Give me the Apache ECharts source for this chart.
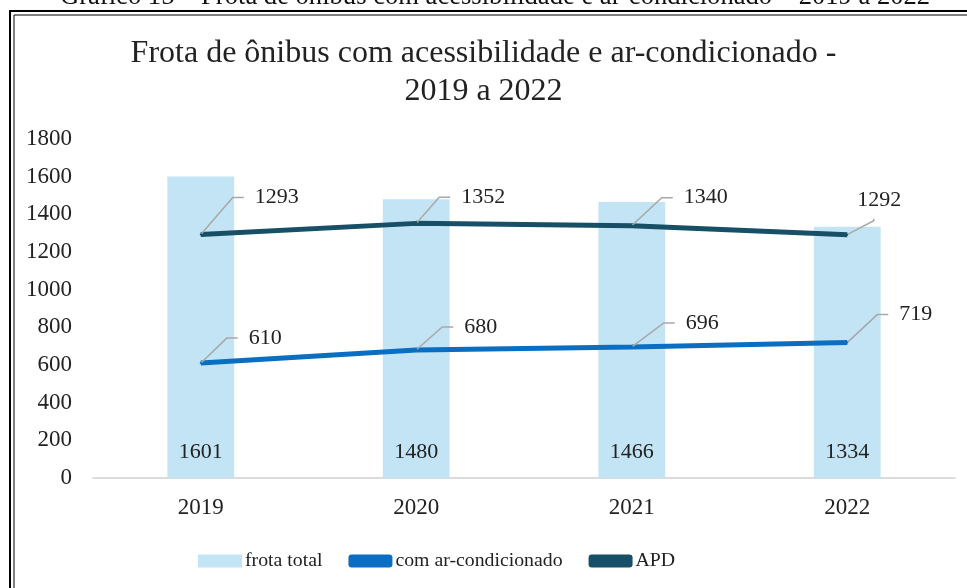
<!DOCTYPE html>
<html><head><meta charset="utf-8">
<script src="https://cdn.jsdelivr.net/npm/echarts@6/dist/echarts.min.js"></script>
<style>html,body{margin:0;padding:0;background:#fff}#c{width:967px;height:588px}</style>
</head><body><div id="c"></div>
<script>
const categories = ['2019', '2020', '2021', '2022'];
const frotaTotal = [1601, 1480, 1466, 1334];
const comAr = [610, 680, 696, 719];
const apd = [1293, 1352, 1340, 1292];
const yTicks = [0, 200, 400, 600, 800, 1000, 1200, 1400, 1600, 1800];

// label placement offsets (style only): [text-left dx, text-middle dy] from the point
const apdLabelOffsets = [[54, -37], [45, -26], [52, -28], [10, -34]];
const arLabelOffsets = [[48, -25], [48, -23], [54, -24], [52, -28]];

const F = '"Liberation Serif","Times New Roman",serif';
const GAP = 11; // width of the two leading spaces at 22px
const chart = echarts.init(document.getElementById('c'));
const lineLabel = {
  show: true, position: 'right', distance: 5, fontFamily: F, fontSize: 22, color: '#222',
  formatter: p => '  ' + p.value
};
function layoutFor(offsets) {
  return function (p) {
    const cx = p.rect.x + p.rect.width / 2;
    const cy = p.rect.y + p.rect.height / 2;
    const o = offsets[p.dataIndex];
    return { x: cx + o[0] - GAP, y: cy + o[1], align: 'left', verticalAlign: 'middle' };
  };
}
const apdData = apd.map((v, i) => i === 3
  ? { value: v, label: { lineHeight: 36 }, labelLine: { length2: 2 } }
  : v);
chart.setOption({
  animation: false,
  backgroundColor: '#fff',
  title: {
    text: 'Frota de ônibus com acessibilidade e ar-condicionado -\n2019 a 2022',
    left: 'center', top: 30,
    textStyle: { fontFamily: F, fontSize: 32, fontWeight: 'normal', color: '#222', lineHeight: 38 }
  },
  graphic: [
    { type: 'text', left: 60, top: -16, style: { text: 'Gráfico 15 – Frota de ônibus com acessibilidade e ar-condicionado – 2019 a 2022', font: '26.6px ' + F, fill: '#111' } },
    { type: 'rect', shape: { x: 10, y: 11, width: 1000, height: 700 }, style: { fill: 'none', stroke: '#000', lineWidth: 2 } },
    { type: 'rect', shape: { x: 14, y: 15, width: 1000, height: 700 }, style: { fill: 'none', stroke: '#000', lineWidth: 1 } }
  ],
  legend: {
    bottom: 12, left: 193, itemGap: 26, itemWidth: 44, itemHeight: 13,
    textStyle: { fontFamily: F, fontSize: 19.8, color: '#222', padding: [0, 0, 0, -2] },
    data: [
      { name: 'frota total', icon: 'rect' },
      { name: 'com ar-condicionado', icon: 'roundRect' },
      { name: 'APD', icon: 'roundRect' }
    ]
  },
  grid: { left: 93, right: 12, top: 139, bottom: 110 },
  xAxis: {
    type: 'category', data: categories,
    axisLine: { lineStyle: { color: '#d0d0d0', width: 1.5 } },
    axisTick: { show: false },
    axisLabel: { fontFamily: F, fontSize: 23, color: '#222', margin: 18 }
  },
  yAxis: {
    type: 'value', min: yTicks[0], max: yTicks[yTicks.length - 1], interval: 200,
    axisLine: { show: false }, axisTick: { show: false }, splitLine: { show: false },
    axisLabel: { fontFamily: F, fontSize: 23, color: '#222', margin: 21, formatter: v => String(v) }
  },
  series: [
    {
      name: 'frota total', type: 'bar', data: frotaTotal, barWidth: '31%',
      itemStyle: { color: '#C2E4F4' },
      label: { show: true, position: 'insideBottom', distance: 15, fontFamily: F, fontSize: 22, color: '#222' }
    },
    {
      name: 'com ar-condicionado', type: 'line', data: comAr, symbol: 'circle', symbolSize: 2,
      lineStyle: { color: '#0A6FC2', width: 5 }, itemStyle: { color: '#0A6FC2' },
      label: lineLabel,
      labelLayout: layoutFor(arLabelOffsets),
      labelLine: { show: true, length2: 11, lineStyle: { color: '#a8a8a8', width: 1.5 } }
    },
    {
      name: 'APD', type: 'line', data: apdData, symbol: 'circle', symbolSize: 2,
      lineStyle: { color: '#164F66', width: 5 }, itemStyle: { color: '#164F66' },
      label: lineLabel,
      labelLayout: layoutFor(apdLabelOffsets),
      labelLine: { show: true, length2: 11, lineStyle: { color: '#a8a8a8', width: 1.5 } }
    }
  ]
});
</script></body></html>
